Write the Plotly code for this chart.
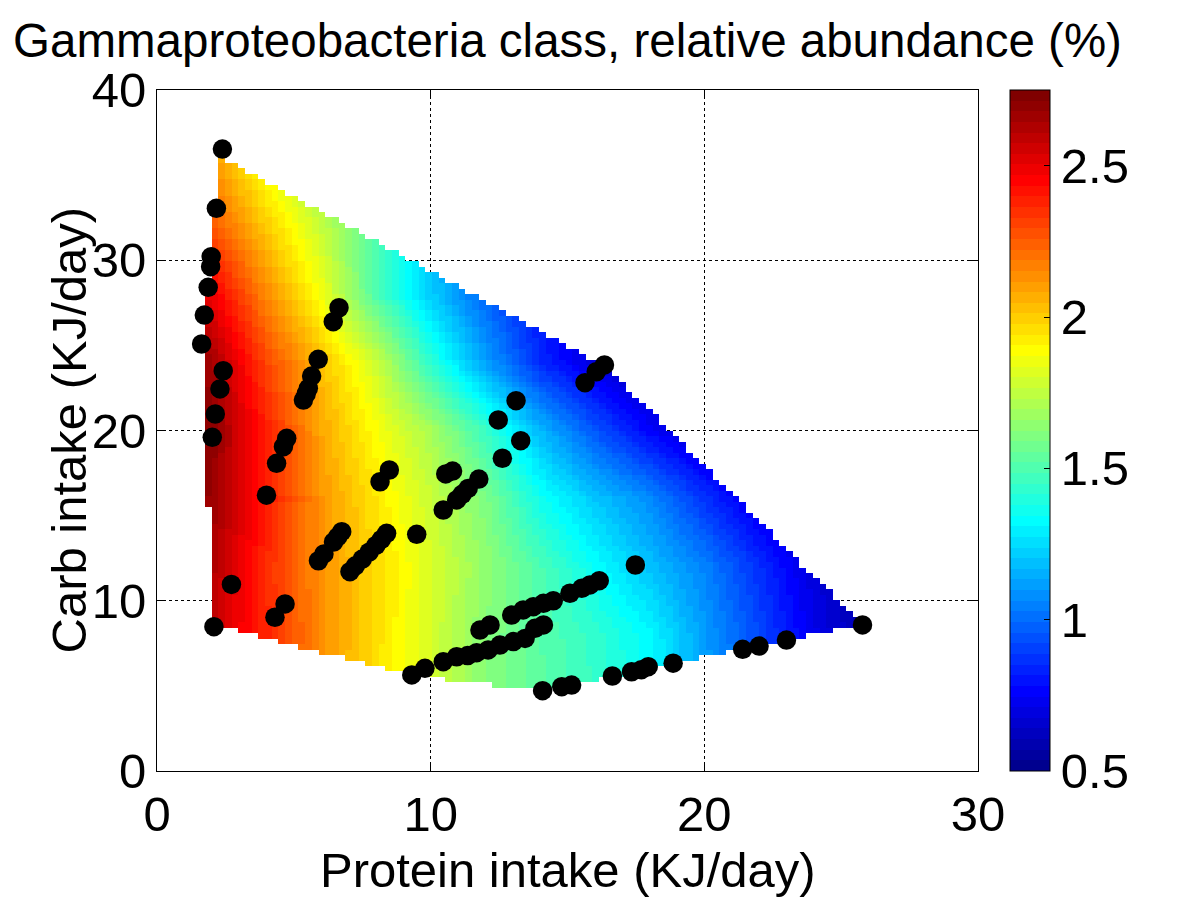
import numpy as np
import plotly.graph_objects as go

# Diet points (protein, carb intake in KJ/day)
protein = [2.39, 2.17, 1.98, 1.96, 1.87, 1.73, 1.63, 2.42, 2.30, 2.13, 2.02, 2.08, 2.72, 4.31, 4.68,
           4.00, 4.37, 4.62, 4.74, 5.35, 5.45, 5.53, 5.65, 5.89, 6.44, 6.65,
           5.90, 6.10, 6.45, 6.60, 6.75, 7.05, 7.25, 7.50, 7.75, 8.00, 8.20, 8.39,
           8.15, 8.49, 9.49, 10.46, 10.55, 10.80, 10.95, 11.15, 11.37, 11.76,
           12.47, 12.62, 13.12, 13.29, 15.64, 16.05, 16.35, 17.48,
           9.31, 9.79, 10.46, 10.95, 11.35, 11.68, 12.10, 12.53, 13.02, 13.45,
           11.80, 12.17, 12.96, 13.38, 13.75, 14.12, 14.48, 15.09, 15.52, 15.82, 16.16,
           13.81, 14.12, 14.09, 14.79, 15.15, 16.64, 17.34, 17.70, 17.95, 18.86,
           21.40, 22.00, 23.00, 25.78]
carb = [36.53, 33.05, 30.21, 29.62, 28.41, 26.78, 25.08, 23.51, 22.44, 20.97, 19.60, 8.48, 10.96, 9.03, 9.81,
        16.20, 18.07, 19.05, 19.54, 21.79, 22.15, 22.48, 23.20, 24.18, 26.39, 27.21,
        12.35, 12.75, 13.45, 13.75, 14.06, 11.71, 12.05, 12.45, 12.85, 13.25, 13.60, 13.96,
        16.99, 17.68, 13.90, 15.33, 17.45, 17.62, 15.92, 16.25, 16.60, 17.15,
        20.62, 18.37, 21.75, 19.40, 22.81, 23.45, 23.85, 12.10,
        5.64, 6.03, 6.42, 6.71, 6.78, 6.95, 7.11, 7.40, 7.60, 7.79,
        8.28, 8.58, 9.16, 9.46, 9.65, 9.85, 10.00, 10.44, 10.73, 10.93, 11.18,
        8.38, 8.58, 4.72, 4.95, 5.05, 5.58, 5.83, 5.95, 6.13, 6.33,
        7.15, 7.34, 7.69, 8.58]

# Fitted surface at coarse nodes (rows = carb, cols = protein)
node_protein = [2, 4, 6, 8, 10, 12, 14, 16, 18, 20, 22, 24, 26]
node_carb = [4, 8, 12, 16, 20, 24, 28, 32, 36]
abund_c4 = [2.52, 2.35, 2.12, 1.95, 1.80, 1.63, 1.53, 1.45, 1.34, 1.13, 0.94, 0.74, 0.60]
abund_c8 = [2.57, 2.38, 2.14, 1.96, 1.80, 1.62, 1.52, 1.43, 1.32, 1.11, 0.92, 0.72, 0.58]
abund_c12 = [2.63, 2.36, 2.13, 1.97, 1.81, 1.65, 1.49, 1.34, 1.19, 1.05, 0.86, 0.68, 0.55]
abund_c16 = [2.68, 2.41, 2.12, 1.94, 1.77, 1.60, 1.36, 1.20, 1.07, 0.87, 0.70, 0.58, 0.52]
abund_c20 = [2.71, 2.39, 2.08, 1.88, 1.70, 1.45, 1.17, 0.95, 0.76, 0.62, 0.55, 0.52, 0.50]
abund_c24 = [2.66, 2.30, 2.03, 1.78, 1.42, 1.12, 0.85, 0.68, 0.58, 0.52, 0.50, 0.50, 0.50]
abund_c28 = [2.49, 2.15, 1.86, 1.50, 1.22, 0.98, 0.80, 0.65, 0.55, 0.50, 0.50, 0.50, 0.50]
abund_c32 = [2.27, 2.00, 1.76, 1.50, 1.20, 0.97, 0.80, 0.65, 0.55, 0.50, 0.50, 0.50, 0.50]
abund_c36 = [2.12, 1.84, 1.62, 1.44, 1.22, 1.00, 0.82, 0.66, 0.55, 0.50, 0.50, 0.50, 0.50]

# Outline of the region where the surface is shown
region_protein = [2.05, 1.85, 1.85, 2.35, 16.4, 25.75, 23.0, 21.4, 18.9, 16.6, 14.1, 9.3]
region_carb = [8.6, 16.5, 28.3, 36.1, 23.75, 8.6, 7.7, 7.15, 6.3, 5.55, 4.7, 5.6]


def jet(m=64):
    # same as matlab jet(m)
    n = int(np.ceil(m / 4))
    u = np.concatenate([np.arange(1, n + 1) / n, np.ones(n - 1), np.arange(n, 0, -1) / n])
    g = int(np.ceil(n / 2)) - (1 if m % 4 == 1 else 0) + np.arange(1, len(u) + 1)
    r = g + n
    b = g - n
    g = g[g <= m]
    r = r[r <= m]
    b = b[b >= 1]
    J = np.zeros((m, 3))
    J[r - 1, 0] = u[:len(r)]
    J[g - 1, 1] = u[:len(g)]
    J[b - 1, 2] = u[len(u) - len(b):]
    return J


def inside(px, py, vx, vy):
    res = np.zeros(px.shape, dtype=bool)
    j = len(vx) - 1
    with np.errstate(divide='ignore', invalid='ignore'):
        for i in range(len(vx)):
            cross = (vy[i] > py) != (vy[j] > py)
            xint = (vx[j] - vx[i]) * (py - vy[i]) / (vy[j] - vy[i]) + vx[i]
            res ^= cross & (px < xint)
            j = i
    return res


# 100 x 100 grid over the data extent
gx = np.linspace(min(protein), max(protein), 100)
gy = np.linspace(min(carb), max(carb), 100)
coarse = np.array([abund_c4, abund_c8, abund_c12, abund_c16, abund_c20,
                   abund_c24, abund_c28, abund_c32, abund_c36])
tmp = np.array([np.interp(gx, node_protein, row) for row in coarse])
zgrid = np.array([np.interp(gy, node_carb, tmp[:, i]) for i in range(len(gx))]).T
XX, YY = np.meshgrid(gx, gy)
mask = inside(XX, YY, np.array(region_protein), np.array(region_carb))
zgrid = np.where(mask, zgrid, np.nan)

cols = jet(64)
colorscale = []
for i, c in enumerate(cols):
    rgb = 'rgb(%d,%d,%d)' % tuple(int(round(v * 255)) for v in c)
    colorscale.append([i / 64, rgb])
    colorscale.append([(i + 1) / 64, rgb])

FONT = 'Liberation Sans, Arial, Helvetica, sans-serif'
FS = 49

fig = go.Figure()
fig.add_trace(go.Heatmap(
    x=gx, y=gy, z=zgrid, colorscale=colorscale, zmin=0.5, zmax=2.75,
    hoverongaps=False,
    colorbar=dict(x=1.039, xanchor='left', xpad=0, y=0.5, yanchor='middle', len=1, ypad=0,
                  thickness=40, outlinecolor='black', outlinewidth=1,
                  tickvals=[0.5, 1, 1.5, 2, 2.5], ticktext=['0.5', '1', '1.5', '2', '2.5'],
                  ticks='inside', ticklen=6, tickcolor='black',
                  tickfont=dict(family=FONT, size=FS, color='black')),
))
fig.add_trace(go.Scatter(
    x=protein, y=carb, mode='markers',
    marker=dict(color='black', size=19.5), showlegend=False,
))

axis_common = dict(showline=True, linecolor='black', linewidth=1, mirror='ticks',
                   ticks='inside', ticklen=8, tickcolor='black', automargin=False,
                   showgrid=True, gridcolor='black', griddash='dot', gridwidth=1,
                   zeroline=False, tickfont=dict(family=FONT, size=FS, color='black'))

fig.update_layout(
    width=1200, height=900,
    paper_bgcolor='white', plot_bgcolor='white',
    # page body has an 8px margin, so everything is pulled up/left by 8px
    margin=dict(l=149, r=230, t=82, b=137, autoexpand=False),
    font=dict(family=FONT, size=FS, color='black'),
    title=dict(text='Gammaproteobacteria class, relative abundance (%)',
               x=0.5, xref='paper', xanchor='center',
               y=1 - 32 / 900, yref='container', yanchor='middle',
               font=dict(family=FONT, size=47.5, color='black')),
    xaxis=dict(range=[0, 30], tickvals=[0, 10, 20, 30], **axis_common),
    yaxis=dict(range=[0, 40], tickvals=[0, 10, 20, 30, 40], **axis_common),
    showlegend=False,
    annotations=[
        dict(text='Protein intake (KJ/day)', xref='paper', yref='paper',
             x=0.5, y=-0.1454, xanchor='center', yanchor='middle', showarrow=False,
             font=dict(family=FONT, size=FS, color='black')),
        dict(text='Carb intake (KJ/day)', xref='paper', yref='paper',
             x=-0.1084, y=0.5, xanchor='center', yanchor='middle', showarrow=False,
             textangle=-90, font=dict(family=FONT, size=FS, color='black')),
    ],
)

fig.write_html('out.html')
